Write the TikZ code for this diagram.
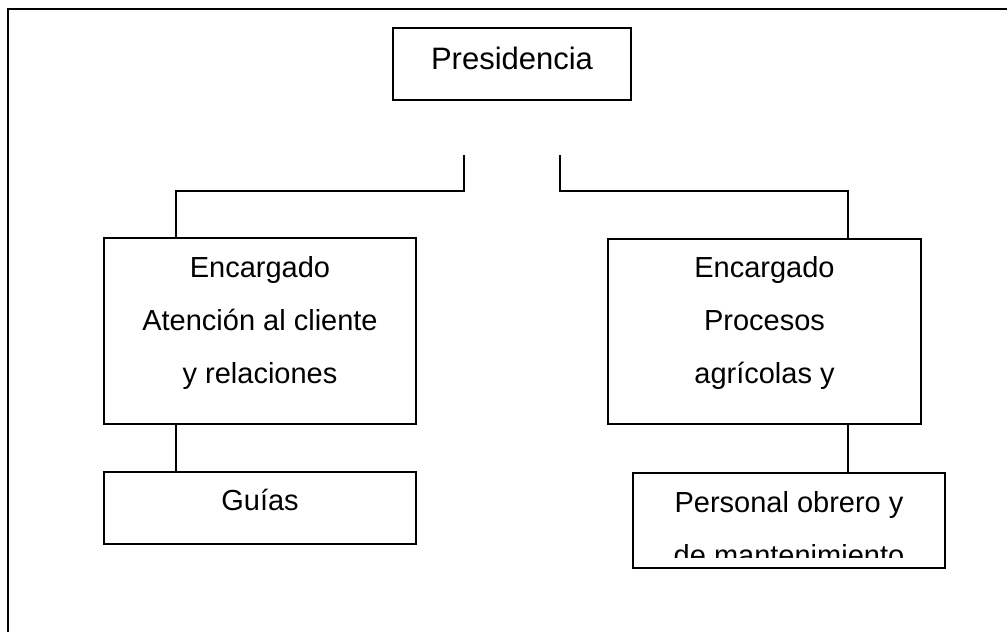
\documentclass[tikz,border=0pt]{standalone}
\usepackage{fontspec}
\setmainfont{Liberation Sans}
\usepackage{tikz}

\begin{document}
\begin{tikzpicture}[x=0.75pt, y=-0.75pt,
    box/.style={draw=black, line width=1.1pt, inner sep=0pt},
    link/.style={line width=1.1pt},
    txt/.style={align=center, inner sep=0pt, font=\fontsize{21.75}{39.75}\selectfont}]

        \useasboundingbox (0,0) rectangle (1007,632);
        \draw[line width=1.6pt] (8,650) -- (8,9) -- (1020,9);

        \node[box, minimum width=178.5pt, minimum height=54pt] (pres) at (512,64) {};
        \node[box, minimum width=234pt, minimum height=139.5pt] (atc) at (260,331) {};
        \node[box, minimum width=234.75pt, minimum height=138.75pt] (agr) at (764.5,331.5) {};
        \node[box, minimum width=234pt, minimum height=54pt] (guias) at (260,508) {};
        \node[box, minimum width=234pt, minimum height=71.25pt] (pers) at (789,520.5) {};

        \node[txt, font=\fontsize{23.25}{28}\selectfont] (pres-t) at (512,58) {Presidencia};
        \node[txt] (atc-t) at (260,322.5) {Encargado\\Atención al cliente\\y relaciones};
        \node[txt] (agr-t) at (764.5,322.5) {Encargado\\Procesos\\agrícolas y};
        \node[txt] (guias-t) at (260,499.5) {Guías};
        \begin{scope}
            \clip (633,473) rectangle (945,557);
            \node[txt] (pers-t) at (789,529) {Personal obrero y\\de mantenimiento};
        \end{scope}

        \coordinate (ltop) at (464,155);
        \coordinate (lmid) at (176,191);
        \coordinate (rtop) at (560,155);
        \coordinate (rmid) at (848,191);

        \draw[link] (ltop) |- (lmid) -- (lmid |- atc.north);
        \draw[link] (rtop) |- (rmid) -- (rmid |- agr.north);
        \draw[link] (lmid |- atc.south) -- (lmid |- guias.north);
        \draw[link] (rmid |- agr.south) -- (rmid |- pers.north);

\end{tikzpicture}
\end{document}
